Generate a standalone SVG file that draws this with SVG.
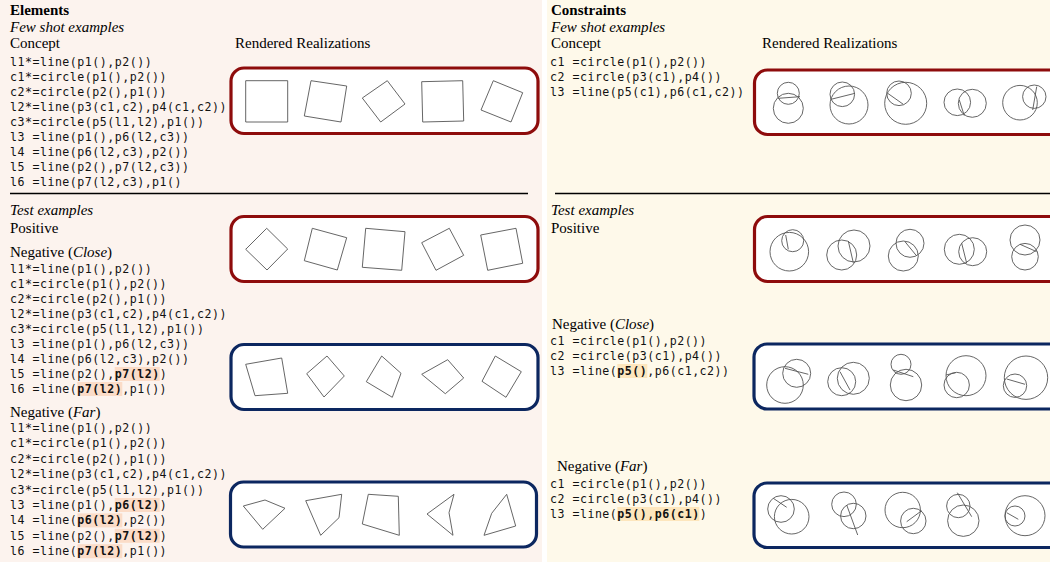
<svg xmlns="http://www.w3.org/2000/svg" width="1050" height="562" viewBox="0 0 1050 562">
<style>
.s{font-family:"Liberation Serif","Times New Roman",serif;font-size:15px;fill:#000}
.b{font-weight:bold}
.i{font-style:italic}
.c{font-family:"DejaVu Sans Mono",monospace;font-size:11.6px;letter-spacing:0.5px;fill:#111}
.k{font-weight:bold}
.hl{fill:#fbdcc8}
.hr{fill:#fde6bd}
.red{fill:#fff;stroke:#8e0c0c;stroke-width:3.2}
.blue{fill:#fff;stroke:#0c2760;stroke-width:3.2}
.sh{fill:none;stroke:#555;stroke-width:0.9}
.sep{stroke:#000;stroke-width:1.5}
</style>
<rect x="0" y="0" width="542" height="562" fill="#fcf3ee"/>
<rect x="547" y="0" width="503" height="562" fill="#fef9ea"/>
<g id="connectors">
<line class="sep" x1="10" y1="193.5" x2="528" y2="193.5"/>
<line class="sep" x1="555" y1="193.5" x2="1050" y2="193.5"/>
</g>
<g id="left-text">
<text class="s b" x="10" y="15">Elements</text>
<text class="s i" x="10" y="32">Few shot examples</text>
<text class="s" x="10" y="48">Concept</text>
<text class="s" x="235" y="48">Rendered Realizations</text>
<text class="c" x="10" y="66">l1*=line(p1(),p2())</text>
<text class="c" x="10" y="81">c1*=circle(p1(),p2())</text>
<text class="c" x="10" y="96">c2*=circle(p2(),p1())</text>
<text class="c" x="10" y="111">l2*=line(p3(c1,c2),p4(c1,c2))</text>
<text class="c" x="10" y="126">c3*=circle(p5(l1,l2),p1())</text>
<text class="c" x="10" y="141">l3 =line(p1(),p6(l2,c3))</text>
<text class="c" x="10" y="156">l4 =line(p6(l2,c3),p2())</text>
<text class="c" x="10" y="171">l5 =line(p2(),p7(l2,c3))</text>
<text class="c" x="10" y="186">l6 =line(p7(l2,c3),p1()</text>
<text class="s i" x="10" y="215">Test examples</text>
<text class="s" x="10" y="233">Positive</text>
<text class="s" x="10" y="257">Negative (<tspan class="i">Close</tspan>)</text>
<text class="c" x="10" y="273">l1*=line(p1(),p2())</text>
<text class="c" x="10" y="288">c1*=circle(p1(),p2())</text>
<text class="c" x="10" y="303">c2*=circle(p2(),p1())</text>
<text class="c" x="10" y="318">l2*=line(p3(c1,c2),p4(c1,c2))</text>
<text class="c" x="10" y="333">c3*=circle(p5(l1,l2),p1())</text>
<text class="c" x="10" y="348">l3 =line(p1(),p6(l2,c3))</text>
<text class="c" x="10" y="363">l4 =line(p6(l2,c3),p2())</text>
<rect class="hl" x="114.7" y="367" width="45" height="14"/>
<text class="c" x="10" y="378">l5 =line(p2(),<tspan class="k">p7(l2)</tspan>)</text>
<rect class="hl" x="77.3" y="382" width="45" height="14"/>
<text class="c" x="10" y="393">l6 =line(<tspan class="k">p7(l2)</tspan>,p1())</text>
<text class="s" x="10" y="417">Negative (<tspan class="i">Far</tspan>)</text>
<text class="c" x="10" y="432">l1*=line(p1(),p2())</text>
<text class="c" x="10" y="447.4">c1*=circle(p1(),p2())</text>
<text class="c" x="10" y="462.8">c2*=circle(p2(),p1())</text>
<text class="c" x="10" y="478.2">l2*=line(p3(c1,c2),p4(c1,c2))</text>
<text class="c" x="10" y="493.6">c3*=circle(p5(l1,l2),p1())</text>
<rect class="hl" x="114.7" y="498" width="45" height="14"/>
<text class="c" x="10" y="509">l3 =line(p1(),<tspan class="k">p6(l2)</tspan>)</text>
<rect class="hl" x="77.3" y="513.4" width="45" height="14"/>
<text class="c" x="10" y="524.4">l4 =line(<tspan class="k">p6(l2)</tspan>,p2())</text>
<rect class="hl" x="114.7" y="528.8" width="45" height="14"/>
<text class="c" x="10" y="539.8">l5 =line(p2(),<tspan class="k">p7(l2)</tspan>)</text>
<rect class="hl" x="77.3" y="544.2" width="45" height="14"/>
<text class="c" x="10" y="555.2">l6 =line(<tspan class="k">p7(l2)</tspan>,p1())</text>
</g>
<g id="left-fewshot">
<rect class="red" x="231" y="68" width="307" height="65.5" rx="13"/>
<polygon class="sh" points="245.7,80.7 287.7,80.7 287.7,122 245.7,122"/>
<polygon class="sh" points="311,80.7 346.7,86 341,122 304.3,116"/>
<polygon class="sh" points="387.3,80.7 405,104 380.7,122 362.3,98"/>
<polygon class="sh" points="421.7,81.7 462.7,80.7 463.7,121 422.7,122"/>
<polygon class="sh" points="493.3,80.7 522.7,92.7 511,122 481,110"/>
</g>
<g id="left-positive">
<rect class="red" x="231" y="216.5" width="307" height="65" rx="13"/>
<polygon class="sh" points="266.7,228.3 287.7,249 267,270 245.7,249.3"/>
<polygon class="sh" points="312.3,228.3 346.7,237.7 337.3,270 304.3,260.7"/>
<polygon class="sh" points="365.7,228.3 405,231.7 401.7,270.3 362.3,267.3"/>
<polygon class="sh" points="449.3,228.3 463.7,255.3 436,270.3 421.7,242.7"/>
<polygon class="sh" points="480.7,235 516,228.3 522.7,263.3 487.7,270.3"/>
</g>
<g id="left-close">
<rect class="blue" x="231" y="344.5" width="307" height="65" rx="13"/>
<polygon class="sh" points="245.7,364.3 281.7,358 287.7,393.3 255,395.7"/>
<polygon class="sh" points="327,356 344.3,376 324,397 306.7,373.7"/>
<polygon class="sh" points="381.7,356 401,373.3 392.3,397.3 366.3,381.7"/>
<polygon class="sh" points="447.7,359.7 463.7,378 445.3,393.7 421.7,374.3"/>
<polygon class="sh" points="495.3,356 521.3,371.7 506,397.3 482,381.3"/>
</g>
<g id="left-far">
<rect class="blue" x="230.5" y="482" width="306" height="65" rx="13"/>
<polygon class="sh" points="243.3,506 265,500 285,508.3 262.7,529.3"/>
<polygon class="sh" points="305.7,500.7 341.7,494.3 339,517.7 320.7,535.3"/>
<polygon class="sh" points="368.3,494.3 398.3,496.3 399.3,535.3 362.3,524"/>
<polygon class="sh" points="454,494.3 449,512.7 453,535.3 427,514"/>
<polygon class="sh" points="506.7,494.3 515.7,526 484,535.3 491.7,513.3"/>
</g>
<g id="right-text">
<text class="s b" x="551" y="15">Constraints</text>
<text class="s i" x="551" y="32">Few shot examples</text>
<text class="s" x="551" y="48">Concept</text>
<text class="s" x="762" y="48">Rendered Realizations</text>
<text class="c" x="550" y="66">c1 =circle(p1(),p2())</text>
<text class="c" x="550" y="81">c2 =circle(p3(c1),p4())</text>
<text class="c" x="550" y="96">l3 =line(p5(c1),p6(c1,c2))</text>
<text class="s i" x="551" y="215">Test examples</text>
<text class="s" x="551" y="233">Positive</text>
<text class="s" x="552" y="329">Negative (<tspan class="i">Close</tspan>)</text>
<text class="c" x="550" y="345">c1 =circle(p1(),p2())</text>
<text class="c" x="550" y="360">c2 =circle(p3(c1),p4())</text>
<rect class="hr" x="617.3" y="364" width="30" height="14"/>
<text class="c" x="550" y="375">l3 =line(<tspan class="k">p5()</tspan>,p6(c1,c2))</text>
<text class="s" x="557" y="471">Negative (<tspan class="i">Far</tspan>)</text>
<text class="c" x="550" y="487.5">c1 =circle(p1(),p2())</text>
<text class="c" x="550" y="503">c2 =circle(p3(c1),p4())</text>
<rect class="hr" x="617.3" y="507" width="82" height="14"/>
<text class="c" x="550" y="518">l3 =line(<tspan class="k">p5()</tspan>,<tspan class="k">p6(c1)</tspan>)</text>
</g>
<g id="right-fewshot">
<rect class="red" x="754.5" y="70" width="320" height="64.5" rx="13"/>
<circle class="sh" cx="788.3" cy="93.3" r="11"/>
<circle class="sh" cx="788.3" cy="108.3" r="15"/>
<line class="sh" x1="778.3" y1="98.3" x2="800" y2="96.7"/>
<circle class="sh" cx="842.3" cy="94.3" r="12.3"/>
<circle class="sh" cx="849" cy="105" r="19"/>
<line class="sh" x1="831" y1="99.3" x2="855" y2="93.3"/>
<circle class="sh" cx="899" cy="93.3" r="12.3"/>
<circle class="sh" cx="905.7" cy="103.3" r="21"/>
<line class="sh" x1="887.7" y1="93.3" x2="903.3" y2="104.3"/>
<circle class="sh" cx="957.3" cy="102.3" r="13.3"/>
<circle class="sh" cx="972.3" cy="103.3" r="14"/>
<line class="sh" x1="959.3" y1="100" x2="964.3" y2="115.7"/>
<circle class="sh" cx="1020" cy="102.7" r="17.3"/>
<circle class="sh" cx="1034.3" cy="96.7" r="11.7"/>
<line class="sh" x1="1036.7" y1="86.7" x2="1032.7" y2="110"/>
</g>
<g id="right-positive">
<rect class="red" x="754.5" y="216.5" width="320" height="65" rx="13"/>
<circle class="sh" cx="792.7" cy="240.7" r="11"/>
<circle class="sh" cx="789.3" cy="251.7" r="19.3"/>
<line class="sh" x1="785.7" y1="235" x2="788.3" y2="249.3"/>
<circle class="sh" cx="841.7" cy="255" r="15"/>
<circle class="sh" cx="854" cy="246" r="16"/>
<line class="sh" x1="848.3" y1="241" x2="853.3" y2="262.7"/>
<circle class="sh" cx="910" cy="243.3" r="14"/>
<circle class="sh" cx="903.3" cy="256" r="15"/>
<line class="sh" x1="905" y1="241.7" x2="916.7" y2="256"/>
<circle class="sh" cx="959.3" cy="249.3" r="15"/>
<circle class="sh" cx="972.7" cy="251.7" r="14"/>
<line class="sh" x1="961.7" y1="243.3" x2="966.7" y2="263.3"/>
<circle class="sh" cx="1025" cy="240" r="15"/>
<circle class="sh" cx="1025" cy="256.7" r="13.3"/>
<line class="sh" x1="1020" y1="244.3" x2="1036.7" y2="251.7"/>
</g>
<g id="right-close">
<rect class="blue" x="754" y="344" width="320" height="65" rx="13"/>
<circle class="sh" cx="785" cy="385" r="18.3"/>
<circle class="sh" cx="796.7" cy="373.3" r="14"/>
<line class="sh" x1="785" y1="368.3" x2="808.3" y2="374.3"/>
<circle class="sh" cx="841.7" cy="381.7" r="14"/>
<circle class="sh" cx="853.3" cy="378.3" r="16"/>
<line class="sh" x1="840" y1="371.7" x2="850" y2="390"/>
<circle class="sh" cx="901" cy="364.3" r="10"/>
<circle class="sh" cx="906" cy="385" r="15.7"/>
<line class="sh" x1="893.3" y1="370" x2="913.3" y2="376.7"/>
<circle class="sh" cx="966" cy="375.7" r="20"/>
<circle class="sh" cx="956.7" cy="385" r="12.7"/>
<line class="sh" x1="946" y1="375" x2="955.7" y2="372.7"/>
<circle class="sh" cx="1026" cy="377.7" r="21.7"/>
<circle class="sh" cx="1015" cy="385.7" r="11.7"/>
<line class="sh" x1="1006.7" y1="379" x2="1025" y2="384.3"/>
</g>
<g id="right-far">
<rect class="blue" x="754" y="483" width="320" height="64.5" rx="13"/>
<circle class="sh" cx="781" cy="509" r="13.3"/>
<circle class="sh" cx="791.7" cy="516.7" r="17.3"/>
<line class="sh" x1="773.3" y1="498.3" x2="786.7" y2="507.3"/>
<circle class="sh" cx="844" cy="504.3" r="12.3"/>
<circle class="sh" cx="853.3" cy="516" r="12.7"/>
<line class="sh" x1="846.7" y1="505" x2="857.7" y2="535"/>
<circle class="sh" cx="902.7" cy="510" r="17.7"/>
<circle class="sh" cx="913.3" cy="521" r="12.7"/>
<line class="sh" x1="906.7" y1="521.7" x2="921.7" y2="510.7"/>
<circle class="sh" cx="958.3" cy="506" r="11.7"/>
<circle class="sh" cx="963.3" cy="520.7" r="15.7"/>
<line class="sh" x1="957.3" y1="492.7" x2="971.7" y2="516.7"/>
<circle class="sh" cx="1015" cy="516" r="10"/>
<circle class="sh" cx="1025" cy="515.7" r="20"/>
<line class="sh" x1="1006.7" y1="512.7" x2="1018.3" y2="519.3"/>
</g>
</svg>
